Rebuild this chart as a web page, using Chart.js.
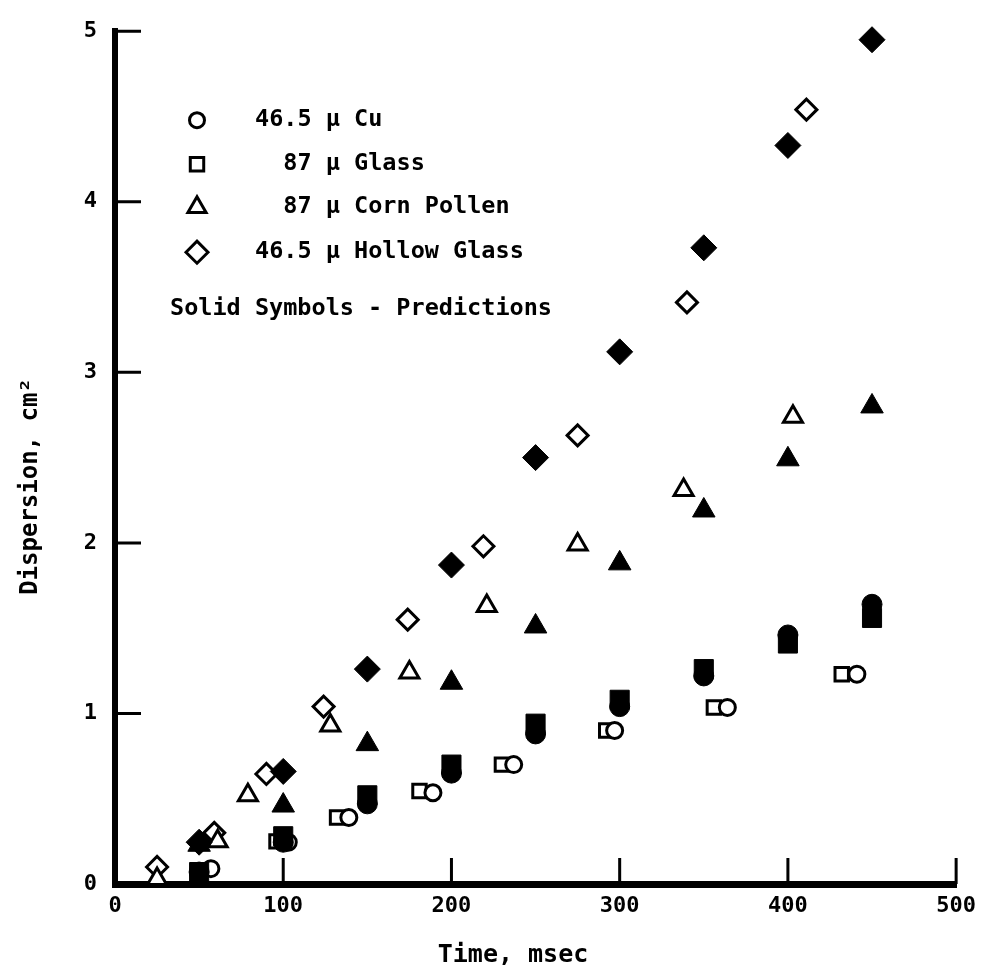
<!DOCTYPE html>
<html>
<head>
<meta charset="utf-8">
<title>Dispersion vs time</title>
<script src="https://cdn.jsdelivr.net/npm/chart.js@4.4.1/dist/chart.umd.min.js"></script>
<style>
  html, body { margin: 0; padding: 0; background: #fff; }
  #wrap { width: 985px; height: 974px; position: relative; }
</style>
</head>
<body>
<div id="wrap"><canvas id="chart"></canvas></div>
<script>
// Measured dispersion, cm^2 (open symbols)
const cuTimes = [57, 103, 139, 189, 237, 297, 364, 441];
const cuMeasured = [0.09, 0.245, 0.39, 0.535, 0.70, 0.90, 1.035, 1.23];
const glassTimes = [96, 132, 181, 230, 292, 356, 432];
const glassMeasured = [0.25, 0.39, 0.545, 0.70, 0.90, 1.035, 1.23];
const pollenTimes = [25, 61, 79, 128, 175, 221, 275, 338, 403];
const pollenMeasured = [0.03, 0.25, 0.52, 0.93, 1.24, 1.63, 1.99, 2.31, 2.74];
const hollowTimes = [25, 59, 90, 124, 174, 219, 275, 340, 411];
const hollowMeasured = [0.10, 0.30, 0.645, 1.04, 1.55, 1.98, 2.63, 3.41, 4.54];

// Predicted dispersion, cm^2 (solid symbols)
const predTimes = [50, 100, 150, 200, 250, 300, 350, 400, 450];
const cuPredicted = [0.07, 0.245, 0.47, 0.65, 0.88, 1.04, 1.22, 1.46, 1.64];
const glassPredicted = [0.07, 0.28, 0.52, 0.70, 0.94, 1.08, 1.26, 1.41, 1.56];
const pollenPredicted = [0.23, 0.46, 0.82, 1.18, 1.51, 1.88, 2.19, 2.49, 2.80];
const hollowPredicted = [0.245, 0.66, 1.26, 1.87, 2.50, 3.12, 3.73, 4.33, 4.95];

// Labels
const seriesNames = ['46.5 \u03bc Cu', '  87 \u03bc Glass', '  87 \u03bc Corn Pollen', '46.5 \u03bc Hollow Glass'];
const noteText = 'Solid Symbols - Predictions';
const xTickValues = [0, 100, 200, 300, 400, 500];
const yTickValues = [0, 1, 2, 3, 4, 5];
const xTitle = 'Time, msec   ';
const yTitle = 'Dispersion, cm\u00b2    ';

const INK = '#000';
const MONO = '"DejaVu Sans Mono", "Liberation Mono", monospace';

const toPoints = (xs, ys) => xs.map((x, i) => ({ x, y: ys[i] }));

// symbol shapes per material: [pointStyle, open radius, solid radius, key radius]
const shapes = [
  ['circle', 8, 10, 7.5],
  ['rect', 9.5, 13.5, 9.5],
  ['triangle', 11, 13, 10.5],
  ['rectRot', 10.5, 13, 11]
];

function series(label, xs, ys, shapeIdx, solid) {
  const [style, rOpen, rSolid] = shapes[shapeIdx];
  return {
    label,
    data: toPoints(xs, ys),
    pointStyle: style,
    pointRadius: solid ? rSolid : rOpen,
    pointBorderWidth: solid ? 1 : 3,
    pointBackgroundColor: solid ? INK : '#fff',
    pointBorderColor: INK,
    showLine: false,
    clip: false
  };
}

// index 0 is painted last, so predictions sit above the measurements
const datasets = [
  series('Cu prediction', predTimes, cuPredicted, 0, true),
  series('Glass prediction', predTimes, glassPredicted, 1, true),
  series('Corn pollen prediction', predTimes, pollenPredicted, 2, true),
  series('Hollow glass prediction', predTimes, hollowPredicted, 3, true),
  series(seriesNames[0], cuTimes, cuMeasured, 0, false),
  series(seriesNames[1], glassTimes, glassMeasured, 1, false),
  series(seriesNames[2], pollenTimes, pollenMeasured, 2, false),
  series(seriesNames[3], hollowTimes, hollowMeasured, 3, false)
];

// short tick marks pointing into the plot
const innerTicks = {
  id: 'innerTicks',
  beforeDatasetsDraw(chart) {
    const { ctx, chartArea: a, scales: { x, y } } = chart;
    ctx.save();
    ctx.strokeStyle = INK;
    ctx.lineWidth = 3;
    ctx.beginPath();
    x.ticks.forEach(t => {
      if (t.value === x.min) return;
      const px = x.getPixelForValue(t.value);
      ctx.moveTo(px, a.bottom);
      ctx.lineTo(px, a.bottom - 26);
    });
    y.ticks.forEach(t => {
      if (t.value === y.min) return;
      const py = y.getPixelForValue(t.value);
      ctx.moveTo(a.left, py);
      ctx.lineTo(a.left + 26, py);
    });
    ctx.stroke();
    ctx.restore();
  }
};

// symbol key in the upper-left of the plot
const symbolKey = {
  id: 'symbolKey',
  afterDatasetsDraw(chart) {
    const { ctx, chartArea: a } = chart;
    const rows = [113, 157, 200, 245];
    ctx.save();
    ctx.font = 'bold 23.5px ' + MONO;
    ctx.textBaseline = 'middle';
    ctx.textAlign = 'left';
    rows.forEach((ry, i) => {
      const ds = chart.data.datasets[4 + i];
      const [style, , , keyRadius] = shapes[i];
      const yPix = a.top + (ry - 24);
      ctx.fillStyle = '#fff';
      ctx.strokeStyle = INK;
      ctx.lineWidth = 3;
      Chart.helpers.drawPoint(ctx, {
        pointStyle: style,
        radius: keyRadius,
        borderWidth: 3,
        rotation: 0
      }, a.left + 82, yPix);
      ctx.fillStyle = INK;
      ctx.fillText(ds.label, a.left + 140, yPix);
    });
    ctx.fillText(noteText, a.left + 55, a.top + (302 - 24));
    ctx.restore();
  }
};

new Chart(document.getElementById('chart'), {
  type: 'scatter',
  data: { datasets },
  plugins: [innerTicks, symbolKey],
  options: {
    responsive: true,
    maintainAspectRatio: false,
    animation: false,
    events: [],
    layout: { padding: { top: 24, right: 27, bottom: 0, left: 0 } },
    plugins: {
      legend: { display: false },
      tooltip: { enabled: false }
    },
    scales: {
      x: {
        type: 'linear',
        min: xTickValues[0],
        max: xTickValues[xTickValues.length - 1],
        ticks: {
          stepSize: xTickValues[1] - xTickValues[0],
          color: INK,
          padding: 9,
          maxRotation: 0,
          font: { family: MONO, size: 22, weight: 'bold' }
        },
        grid: { display: false, drawTicks: false },
        border: { display: true, color: INK, width: 7 },
        title: {
          display: true,
          text: xTitle,
          color: INK,
          font: { family: MONO, size: 25, weight: 'bold' },
          padding: { top: 4, bottom: 4 }
        },
        afterFit(scale) { scale.height = 90; }
      },
      y: {
        type: 'linear',
        min: yTickValues[0],
        max: yTickValues[yTickValues.length - 1],
        ticks: {
          stepSize: yTickValues[1] - yTickValues[0],
          color: INK,
          padding: 18,
          font: { family: MONO, size: 22, weight: 'bold' }
        },
        grid: { display: false, drawTicks: false },
        border: { display: true, color: INK, width: 6 },
        title: {
          display: true,
          text: yTitle,
          color: INK,
          font: { family: MONO, size: 24, weight: 'bold' },
          padding: { top: 16, bottom: 0 }
        },
        afterFit(scale) { scale.width = 115; }
      }
    }
  }
});
</script>
</body>
</html>
